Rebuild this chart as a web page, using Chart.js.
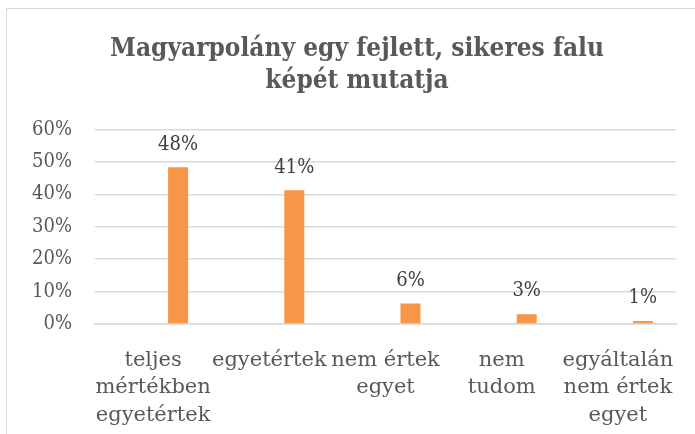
<!DOCTYPE html>
<html>
<head>
<meta charset="utf-8">
<script src="https://cdn.jsdelivr.net/npm/chart.js@4"></script>
<style>
  html, body { margin: 0; padding: 0; background: #fff; }
  #wrap { position: relative; width: 695px; height: 434px; overflow: hidden; }
  #frame { position: absolute; left: 6px; top: 8px; width: 720px; height: 460px; border: 1px solid #d9d9d9; }
  canvas { position: absolute; left: 6px; top: 8px; }
</style>
</head>
<body>
<div id="wrap">
  <div id="frame"></div>
  <canvas id="chart" width="702" height="426"></canvas>
</div>
<script>
// --- Data ---
const categories = [
  ['teljes', 'mértékben', 'egyetértek'],
  'egyetértek',
  ['nem értek', 'egyet'],
  ['nem', 'tudom'],
  ['egyáltalán', 'nem értek', 'egyet']
];
const values = [0.483, 0.412, 0.063, 0.030, 0.009];
const emptySeries = [null, null, null, null, null]; // üres első sorozat (Excel eredeti)
const yTicks = [0, 0.1, 0.2, 0.3, 0.4, 0.5, 0.6];

const textColor = '#595959';
const serif = "'DejaVu Serif', serif";
const serifCond = "'DejaVu Serif Condensed', 'DejaVu Serif', serif";

// --- Data labels plugin (értékek az oszlopok fölött) ---
const barLabels = {
  id: 'barLabels',
  afterDatasetsDraw(chart) {
    const ctx = chart.ctx;
    const meta = chart.getDatasetMeta(1);
    ctx.save();
    ctx.font = "20px " + serifCond;
    ctx.fillStyle = '#404040';
    ctx.textAlign = 'center';
    ctx.textBaseline = 'bottom';
    meta.data.forEach((bar, i) => {
      ctx.fillText(Math.round(values[i] * 100) + '%', bar.x, bar.y - 13);
    });
    ctx.restore();
  }
};

const ctx = document.getElementById('chart').getContext('2d');
new Chart(ctx, {
  type: 'bar',
  data: {
    labels: categories,
    datasets: [
      { label: '', data: emptySeries, backgroundColor: '#4f81bd' },
      { label: 'Magyarpolány', data: values, backgroundColor: '#f79646' }
    ]
  },
  options: {
    responsive: false,
    animation: false,
    categoryPercentage: 0.86,
    barPercentage: 0.4,
    layout: { padding: 0 },
    plugins: {
      legend: { display: false },
      tooltip: { enabled: false },
      title: {
        display: true,
        text: ['Magyarpolány egy fejlett, sikeres falu', 'képét mutatja'],
        color: textColor,
        font: { family: serifCond, size: 26, weight: 'bold' },
        lineHeight: 1.22,
        padding: { top: 26, bottom: 33 }
      }
    },
    scales: {
      x: {
        grid: { display: false },
        border: { color: '#d9d9d9', width: 1.5 },
        ticks: {
          color: textColor,
          font: { family: serif, size: 21, lineHeight: 1.3 },
          maxRotation: 0,
          autoSkip: false,
          padding: 15
        },
        afterFit: s => { s.height = 110; }
      },
      y: {
        min: 0,
        max: 0.6,
        afterBuildTicks: s => { s.ticks = yTicks.map(v => ({ value: v })); },
        grid: { color: '#d9d9d9', lineWidth: 1.5, drawTicks: false },
        border: { display: false },
        ticks: {
          color: textColor,
          font: { family: serifCond, size: 20 },
          padding: 23,
          callback: v => Math.round(v * 100) + '%'
        },
        afterFit: s => { s.width = 89; }
      },
      // üres jobb oldali sáv, hogy a cím a teljes keret közepére kerüljön
      yRight: {
        position: 'right',
        grid: { display: false },
        border: { display: false },
        ticks: { display: false },
        afterFit: s => { s.width = 32; }
      }
    }
  },
  plugins: [barLabels]
});
</script>
</body>
</html>
